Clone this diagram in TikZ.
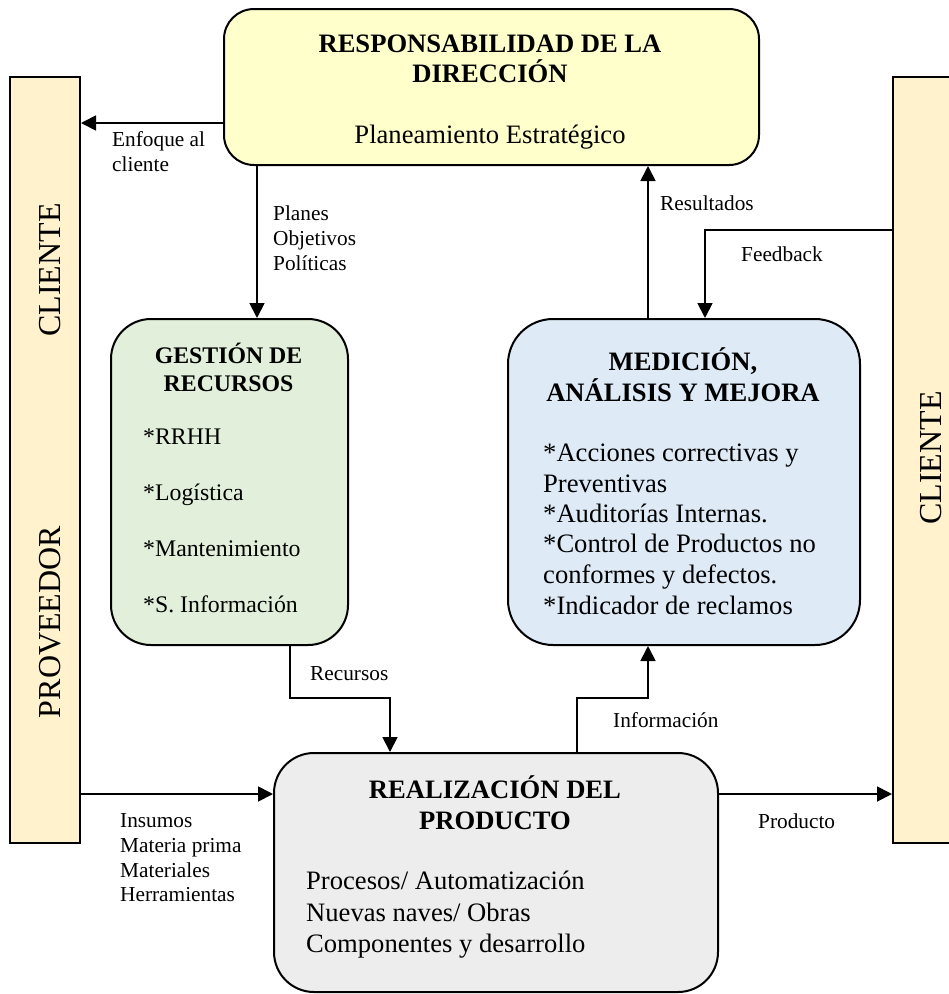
\documentclass[tikz,border=0pt]{standalone}
\usepackage{fontspec}
\setmainfont{Liberation Serif}
\usetikzlibrary{arrows.meta}

\definecolor{topfill}{HTML}{FFFFCC}
\definecolor{gestfill}{HTML}{E2EFDA}
\definecolor{medfill}{HTML}{DEEBF7}
\definecolor{realfill}{HTML}{EDEDED}
\definecolor{barfill}{HTML}{FFF2CC}

\newcommand{\szbig}{\fontsize{26.6pt}{30.6pt}\selectfont}
\newcommand{\szmid}{\fontsize{23.8pt}{28pt}\selectfont}
\newcommand{\szlbl}{\fontsize{21.3pt}{25pt}\selectfont}
\newcommand{\szbar}{\fontsize{32pt}{36pt}\selectfont}

\begin{document}
\begin{tikzpicture}[x=1pt,y=-1pt,
  box/.style={draw=black, line width=2pt, inner sep=0pt, anchor=north west},
  bar/.style={draw=black, line width=2pt, fill=barfill, inner sep=0pt,
    anchor=north west, minimum width=70pt, minimum height=766pt},
  conn/.style={line width=1.8pt, -{Triangle[length=15pt,width=15pt]}},
  txt/.style={inner sep=0pt, anchor=base west},
  ttl/.style={inner sep=0pt, anchor=base, font=\szbig\bfseries},
  lbl/.style={inner sep=0pt, anchor=base west, font=\szlbl},
  vtxt/.style={inner sep=0pt, anchor=center, rotate=90, font=\szbar}
]
\useasboundingbox (0,0) rectangle (949,994);

% side bars
\node[bar] (cliL) at (9,76) {};
\node[bar] (cliR) at (892,76) {};
\node[vtxt] (cliLt) at (50,270) {CLIENTE};
\node[vtxt] (provt) at (50,622) {PROVEEDOR};
\node[vtxt] (cliRt) at (931.5,458) {CLIENTE};

% management responsibility
\node[box, fill=topfill, rounded corners=30pt, minimum width=535pt, minimum height=156pt] (dir) at (223,8) {};
\node[ttl] (dirT1) at (490,52) {RESPONSABILIDAD DE LA};
\node[ttl] (dirT2) at (490,82) {DIRECCIÓN};
\node[inner sep=0pt, anchor=base, font=\szbig] (dirP) at (490,143) {Planeamiento Estratégico};

% resource management
\node[box, fill=gestfill, rounded corners=40pt, minimum width=237pt, minimum height=326pt] (gest) at (110,318) {};
\node[ttl, font=\szmid\bfseries] (gestT1) at (228.5,363) {GESTIÓN DE};
\node[ttl, font=\szmid\bfseries] (gestT2) at (228.5,391) {RECURSOS};
\node[txt, font=\szmid] (gest1) at (143,444) {*RRHH};
\node[txt, font=\szmid] (gest2) at (143,500) {*Logística};
\node[txt, font=\szmid] (gest3) at (143,556) {*Mantenimiento};
\node[txt, font=\szmid] (gest4) at (143,612) {*S. Información};

% measurement, analysis and improvement
\node[box, fill=medfill, rounded corners=45pt, minimum width=352pt, minimum height=326pt] (med) at (507,318) {};
\node[ttl] (medT1) at (683,370) {MEDICIÓN,};
\node[ttl] (medT2) at (683,401) {ANÁLISIS Y MEJORA};
\node[txt, font=\szbig] (med1) at (543,461) {*Acciones correctivas y};
\node[txt, font=\szbig] (med2) at (543,492) {Preventivas};
\node[txt, font=\szbig] (med3) at (543,522) {*Auditorías Internas.};
\node[txt, font=\szbig] (med4) at (543,552) {*Control de Productos no};
\node[txt, font=\szbig] (med5) at (543,583) {conformes y defectos.};
\node[txt, font=\szbig] (med6) at (543,614) {*Indicador de reclamos};

% product realization
\node[box, fill=realfill, rounded corners=40pt, minimum width=444pt, minimum height=239pt] (real) at (273,752) {};
\node[ttl] (realT1) at (495,798) {REALIZACIÓN DEL};
\node[ttl] (realT2) at (495,829) {PRODUCTO};
\node[txt, font=\szbig] (real1) at (306,889) {Procesos/ Automatización};
\node[txt, font=\szbig] (real2) at (306,921) {Nuevas naves/ Obras};
\node[txt, font=\szbig] (real3) at (306,952) {Componentes y desarrollo};

% routing points
\coordinate (yEnf) at (0,123);
\coordinate (xPl) at (257,0);
\coordinate (xRes) at (648,0);
\coordinate (fbk) at (705,230);
\coordinate (rec) at (290,698);
\coordinate (rec2) at (390,698);
\coordinate (inf) at (577,698);
\coordinate (inf2) at (648,698);
\coordinate (yIns) at (0,794);

% connectors
\draw[conn] (dir.west |- yEnf) -- (cliL.east |- yEnf);
\draw[conn] (dir.south -| xPl) -- (gest.north -| xPl);
\draw[conn] (med.north -| xRes) -- (dir.south -| xRes);
\draw[conn] (cliR.west |- fbk) -| (med.north -| fbk);
\draw[conn] (gest.south -| rec) |- (rec2) -- (real.north -| rec2);
\draw[conn] (real.north -| inf) |- (inf2) -- (med.south -| inf2);
\draw[conn] (cliL.east |- yIns) -- (real.west |- yIns);
\draw[conn] (real.east |- yIns) -- (cliR.west |- yIns);

% connector labels
\node[lbl] (lEnf1) at (112,146) {Enfoque al};
\node[lbl] (lEnf2) at (112,171) {cliente};
\node[lbl] (lPl1) at (273,220) {Planes};
\node[lbl] (lPl2) at (273,245) {Objetivos};
\node[lbl] (lPl3) at (273,270) {Políticas};
\node[lbl] (lRes) at (660,210) {Resultados};
\node[lbl] (lFb) at (741,261) {Feedback};
\node[lbl] (lRec) at (310,680) {Recursos};
\node[lbl] (lInf) at (613,727) {Información};
\node[lbl] (lIns1) at (120,827) {Insumos};
\node[lbl] (lIns2) at (120,852) {Materia prima};
\node[lbl] (lIns3) at (120,877) {Materiales};
\node[lbl] (lIns4) at (120,901) {Herramientas};
\node[lbl] (lProd) at (758,828) {Producto};
\end{tikzpicture}
\end{document}
